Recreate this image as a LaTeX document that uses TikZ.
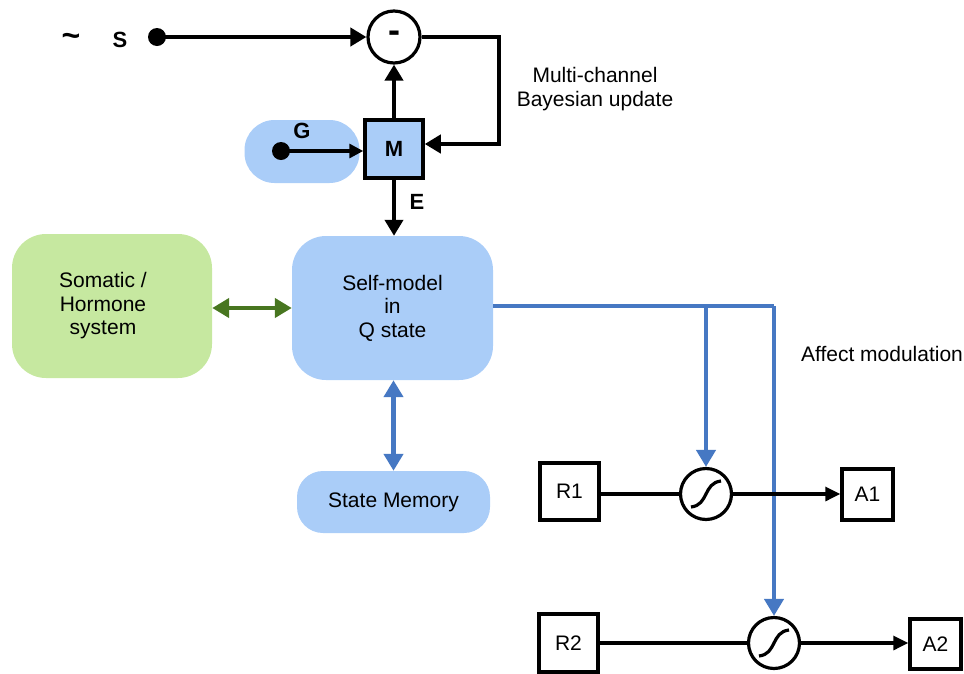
\documentclass[tikz,border=0pt]{standalone}
\usepackage{fontspec}
\setmainfont{Liberation Sans}
\usetikzlibrary{arrows.meta}

\definecolor{paleblue}{RGB}{170,205,248}
\definecolor{palegreen}{RGB}{198,232,160}
\definecolor{linkblue}{RGB}{70,120,195}
\definecolor{linkgreen}{RGB}{72,118,32}

\begin{document}
\begin{tikzpicture}[x=1pt,y=-1pt,
  every node/.style={font=\fontsize{21}{23.5}\selectfont},
  lbl/.style={font=\fontsize{22}{22}\selectfont\bfseries},
  softbox/.style={fill=paleblue, rounded corners=34pt, align=center, inner sep=0pt},
  greenbox/.style={fill=palegreen, rounded corners=34pt, align=center, inner sep=0pt},
  mbox/.style={draw=black, line width=3.5pt, fill=paleblue, minimum width=58pt, minimum height=58pt, inner sep=0pt, font=\fontsize{22}{22}\selectfont\bfseries},
  sumring/.style={draw=black, line width=3.2pt, circle, minimum size=52pt, inner sep=0pt, fill=white},
  sigring/.style={draw=black, line width=3.2pt, circle, minimum size=51pt, inner sep=0pt, fill=white},
  plainbox/.style={draw=black, line width=3.4pt, inner sep=0pt, fill=white},
  dot/.style={circle, fill=black, minimum size=18pt, inner sep=0pt},
  bigtip/.style={-{Triangle[length=16pt,width=18pt]}},
  blackarrow/.style={line width=4.5pt, bigtip},
  thinarrow/.style={line width=3.2pt, -{Triangle[length=15pt,width=14pt]}},
  bluelink/.style={draw=linkblue, line width=4.5pt},
  bluearrow/.style={bluelink, -{Triangle[length=17pt,width=19pt]}},
  bluedouble/.style={bluelink, {Triangle[length=17pt,width=19pt]}-{Triangle[length=17pt,width=19pt]}},
  greendouble/.style={draw=linkgreen, line width=4.5pt, {Triangle[length=17pt,width=19pt]}-{Triangle[length=17pt,width=19pt]}},
]
\useasboundingbox (0,0) rectangle (964,673);

% upper loop: sensed signal compared with the model's prediction
\node[font=\fontsize{32}{32}\selectfont\bfseries] (tilde) at (71,40) {\char`\~};
\node[lbl] (slabel) at (120,40) {S};
\node[dot] (sdot) at (157,37) {};
\node[sumring, font=\fontsize{36}{36}\selectfont\bfseries] (diff) at (394,37) {-};

\node[softbox, minimum width=115pt, minimum height=63pt, rounded corners=30pt] (gblob) at (302,151.5) {};
\node[lbl] (glabel) at (302,131) {G};
\node[dot] (gdot) at (281,151) {};
\node[mbox] (mod) at (394,149) {M};
\node[lbl] (elabel) at (417,202) {E};
\coordinate (loopcorner1) at (499,37);
\coordinate (loopcorner2) at (499,144);

\node[align=center] (bayes) at (595,89) {Multi-channel\\Bayesian update};

% central blocks
\node[softbox, minimum width=201pt, minimum height=144pt] (self) at (392.5,308) {Self-model\\in\\Q state};
\node[greenbox, minimum width=200pt, minimum height=144pt,
      label={[xshift=-9pt,align=center,font=\fontsize{21}{23.5}\selectfont]center:Somatic /\\Hormone\\system}] (soma) at (112,306) {};
\node[softbox, minimum width=193pt, minimum height=62pt, rounded corners=26pt] (mem) at (393.5,502) {State Memory};

\node (affect) at (882,354) {Affect modulation};

% response channels with sigmoid gates
\node[plainbox, minimum width=59pt, minimum height=57pt] (r1) at (569.5,491.5) {R1};
\node[sigring] (sig1) at (706,494) {};
\node[plainbox, minimum width=51pt, minimum height=51pt] (a1) at (867.5,494.5) {A1};
\node[plainbox, minimum width=59pt, minimum height=58pt] (r2) at (568.5,643) {R2};
\node[sigring] (sig2) at (774,643) {};
\node[plainbox, minimum width=51pt, minimum height=50pt] (a2) at (935.5,644) {A2};

\foreach \s in {sig1,sig2}
  \draw[line width=3.2pt] ([shift={(-15,13)}]\s.center) .. controls ([shift={(3,11)}]\s.center) and ([shift={(-3,-11)}]\s.center) .. ([shift={(15,-13)}]\s.center);

% connectors
\draw[blackarrow] (sdot.center) -- (diff.west);
\draw[blackarrow] (mod.north) -- (diff.south);
\draw[blackarrow] (diff.east) -- (loopcorner1) -- (loopcorner2) -- (mod.east |- loopcorner2);
\draw[line width=3.2pt, -{Triangle[length=14pt,width=14pt]}] (gdot.center) -- (mod.west |- gdot);
\draw[blackarrow] (mod.south) -- (mod.south |- self.north);

\draw[greendouble] (soma.east |- self.west) -- (self.west);
\draw[bluedouble] (self.south -| mem.north) -- (mem.north);

\coordinate (tap) at (self.east |- 0,306);
\coordinate (branch1) at (706,306);
\coordinate (branch2) at (774,306);
\draw[bluelink] (self.east |- tap) -- (branch2);
\draw[bluearrow] (branch1) -- (sig1.north);
\draw[bluearrow] (branch2) -- (sig2.north);

\draw[line width=3.2pt] (r1.east |- sig1) -- (sig1.west);
\draw[thinarrow] (sig1.east) -- (a1.west |- sig1);
\draw[line width=3.2pt] (r2.east |- sig2) -- (sig2.west);
\draw[thinarrow] (sig2.east) -- (a2.west |- sig2);
\end{tikzpicture}
\end{document}
